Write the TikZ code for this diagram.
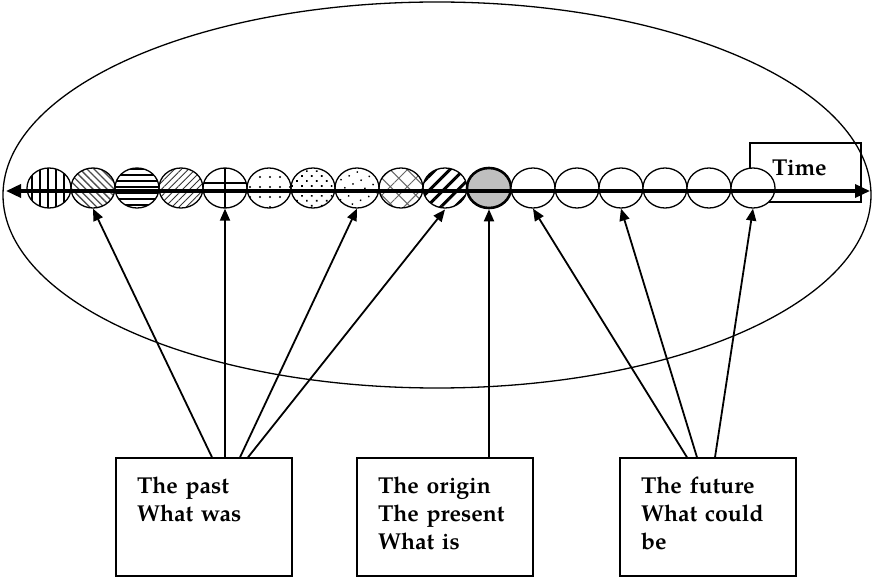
\documentclass[tikz,border=0pt]{standalone}
\usepackage{fontspec}
\setmainfont{TeX Gyre Pagella}
\usetikzlibrary{arrows.meta,shapes.geometric,patterns.meta}

\tikzset{
  era/.style={draw, line width=1.3pt, ellipse, minimum width=44pt, minimum height=40pt, inner sep=0pt},
  pblank/.style={fill=white},
  pvert/.style={pattern={Lines[angle=90,distance=8pt,line width=1.7pt]}},
  pback/.style={pattern={Lines[angle=-45,distance=5pt,line width=1.3pt]}, pattern color=black!70},
  phoriz/.style={pattern={Lines[angle=0,distance=6pt,line width=1.4pt]}},
  pfwd/.style={pattern={Lines[angle=45,distance=5pt,line width=0.9pt]}, pattern color=black!80},
  pcross/.style={path picture={
      \draw[line width=1.4pt] (path picture bounding box.north) -- (path picture bounding box.south);
      \draw[line width=1.4pt] ([yshift=5pt]path picture bounding box.west) -- ([yshift=5pt]path picture bounding box.east);}},
  pdots/.style={pattern={Dots[distance=10pt,radius=1.1pt]}},
  pdense/.style={pattern={Dots[distance=7pt,angle=45,radius=1.2pt]}},
  psparse/.style={pattern={Dots[distance=9pt,angle=25,radius=1pt]}},
  phatch/.style={pattern={Hatch[angle=45,distance=12pt,line width=1pt]}, pattern color=black!60},
  pbands/.style={pattern={Lines[angle=45,distance=10pt,line width=3pt]}},
  pnow/.style={fill=black!25, line width=2.6pt},
  pointer/.style={line width=1.8pt, -{Triangle[length=12pt,width=10pt]}},
  stagebox/.style={draw, line width=1.4pt, minimum width=176pt, minimum height=118pt,
    text width=134pt, inner xsep=21pt, align=left, font=\fontsize{23}{28}\selectfont\bfseries,
    execute at end node={\rule[-8pt]{0pt}{8pt}}},
  timebox/.style={draw, line width=1.3pt, minimum width=111pt, minimum height=59pt,
    text width=67pt, inner xsep=22pt, align=left, text depth=9pt, font=\fontsize{23}{28}\selectfont\bfseries}
}

\begin{document}
\begin{tikzpicture}[x=1pt, y=-1pt]
  \useasboundingbox (0,0) rectangle (873,577);
  % the whole of time
  \draw[line width=1.3pt] (437,195) ellipse [x radius=434pt, y radius=193pt];
  \node[timebox] (timelbl) at (805.5,172.5) {Time};
  % one circle per moment
  \foreach \i/\pat in {1/pvert, 2/pback, 3/phoriz, 4/pfwd, 5/pcross, 6/pdots, 7/pdense,
      8/psparse, 9/phatch, 10/pbands, 11/pnow, 12/pblank, 13/pblank, 14/pblank,
      15/pblank, 16/pblank, 17/pblank}
    \node[era, \pat] (c\i) at ({49+44*(\i-1)},188) {};
  % time axis
  \coordinate (tstart) at (6,191);
  \coordinate (tend) at (870,191);
  \draw[line width=3.5pt, {Triangle[length=15pt,width=13pt]}-{Triangle[length=15pt,width=13pt]}] (tstart) -- (tend);
  % the three boxes
  \node[stagebox] (past) at (204,517) {The past\\What was\\\phantom{be}};
  \node[stagebox] (now) at (445,517) {The origin\\The present\\What is};
  \node[stagebox] (future) at (708,517) {The future\\What could\\be};
  % pointers
  \draw[pointer] ([xshift=8pt]past.north) -- (c2.south);
  \draw[pointer] ([xshift=21pt]past.north) -- (c5.south);
  \draw[pointer] ([xshift=36pt]past.north) -- (c8.south);
  \draw[pointer] ([xshift=44pt]past.north) -- (c10.south);
  \draw[pointer] ([xshift=44pt]now.north) -- (c11.south);
  \draw[pointer] ([xshift=-21pt]future.north) -- (c12.south);
  \draw[pointer] ([xshift=-11pt]future.north) -- (c14.south);
  \draw[pointer] ([xshift=7pt]future.north) -- (c17.south);
\end{tikzpicture}
\end{document}
